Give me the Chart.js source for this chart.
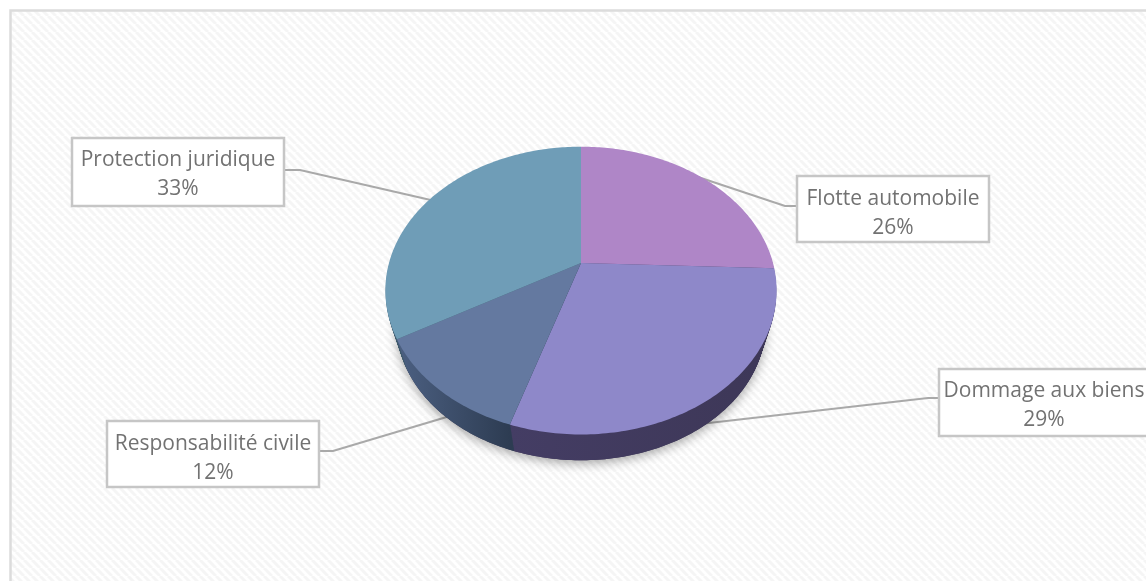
<!DOCTYPE html>
<html lang="fr">
<head>
<meta charset="utf-8">
<title>Répartition</title>
<script src="https://cdn.jsdelivr.net/npm/chart.js@4"></script>
<style>
  html, body { margin: 0; padding: 0; background: #fff; overflow: hidden; }
  #wrap { width: 1146px; height: 581px; position: relative; }
</style>
</head>
<body>
<div id="wrap"><canvas id="pie"></canvas></div>
<script>
// Donnees (etiquettes arrondies a l'entier)
const categories = ['Flotte automobile', 'Dommage aux biens', 'Responsabilité civile', 'Protection juridique'];
const values = [25.6, 29.3, 11.8, 33.3];

// Couleurs
const topColors = ['#af86c7', '#8e88c9', '#6479a0', '#6f9db7'];
const wallColors = [['#5d4570', '#4d3a60'], ['#443d64', '#3d3757'], ['#4c6082', '#2d3c52'], ['#3f5a6c', '#3f5a6c']];

// Etiquettes : cadre [x, y, largeur, hauteur], lignes de texte, trait de rappel
const callouts = [
  { box: [797, 176, 192, 66], textY: [199, 228], leader: [[797, 206], [785, 206], [695, 176]] },
  { box: [939, 369, 210, 67], textY: [391, 420], leader: [[939, 398], [928, 398], [700, 424]] },
  { box: [107, 421, 212, 66], textY: [444, 473], leader: [[319, 451], [333, 451], [450, 416]] },
  { box: [72, 138, 212, 68], textY: [160, 189], leader: [[284, 170], [300, 170], [435, 201]] }
];

// Perspective du disque (cercle -> ellipse, sommet hors du centre)
const tilt = 0.722;
const persp = 0.1916;
const depth = 34;
const depthScale = 0.943;
const ellipseShift = 27.5;

function project(arc, a, t) {
  const u = Math.cos(a), v = Math.sin(a);
  const w = 1 - persp * v;
  const r = arc.outerRadius;
  const cy = arc.y + ellipseShift;
  const s = 1 - (1 - depthScale) * t;
  const x = arc.x + r * u / w;
  const y = arc.y + r * tilt * v / w;
  return [arc.x + (x - arc.x) * s, cy + (y - cy) * s + depth * t];
}

function wedge(ctx, arc, t) {
  ctx.beginPath();
  const apex = project({ x: arc.x, y: arc.y, outerRadius: 0 }, 0, t);
  ctx.moveTo(apex[0], apex[1]);
  const n = Math.ceil((arc.endAngle - arc.startAngle) * 60);
  for (let i = 0; i <= n; i++) {
    const p = project(arc, arc.startAngle + (arc.endAngle - arc.startAngle) * i / n, t);
    ctx.lineTo(p[0], p[1]);
  }
  ctx.closePath();
}

function hatch() {
  const c = document.createElement('canvas');
  c.width = 8; c.height = 8;
  const g = c.getContext('2d');
  g.fillStyle = '#ffffff';
  g.fillRect(0, 0, 8, 8);
  g.strokeStyle = '#f5f5f5';
  g.lineWidth = 3;
  [-8, 0, 8].forEach(o => {
    g.beginPath();
    g.moveTo(o, 0);
    g.lineTo(o + 8, 8);
    g.stroke();
  });
  return c;
}

const backdrop = {
  id: 'backdrop',
  beforeDraw(chart) {
    const ctx = chart.ctx;
    ctx.save();
    ctx.fillStyle = ctx.createPattern(hatch(), 'repeat');
    ctx.fillRect(10, 10, 1136, 571);
    ctx.strokeStyle = '#dcdcdc';
    ctx.lineWidth = 2.5;
    ctx.beginPath();
    ctx.moveTo(10.5, 581);
    ctx.lineTo(10.5, 10.5);
    ctx.lineTo(1146, 10.5);
    ctx.stroke();
    // traits de rappel, sous le disque
    ctx.strokeStyle = '#a9a9a9';
    ctx.lineWidth = 2.2;
    callouts.forEach(c => {
      ctx.beginPath();
      c.leader.forEach((p, i) => i ? ctx.lineTo(p[0], p[1]) : ctx.moveTo(p[0], p[1]));
      ctx.stroke();
    });
    ctx.restore();
  }
};

const disc3d = {
  id: 'disc3d',
  beforeDatasetDraw(chart) {
    const ctx = chart.ctx;
    const arcs = chart.getDatasetMeta(0).data;
    ctx.save();
    // ombre portee
    ctx.save();
    ctx.shadowColor = 'rgba(0,0,0,0.35)';
    ctx.shadowBlur = 11;
    ctx.shadowOffsetY = 3;
    ctx.fillStyle = '#3d3757';
    arcs.forEach(arc => { wedge(ctx, arc, 1); ctx.fill(); });
    ctx.restore();
    // flanc
    for (let k = depth; k > 0; k--) {
      arcs.forEach((arc, i) => {
        const first = project(arc, arc.endAngle, 0)[0];
        const last = project(arc, arc.startAngle, 0)[0];
        const grad = ctx.createLinearGradient(Math.min(first, last), 0, Math.max(first, last), 0);
        grad.addColorStop(0, wallColors[i][0]);
        grad.addColorStop(1, wallColors[i][1]);
        ctx.fillStyle = grad;
        wedge(ctx, arc, k / depth);
        ctx.fill();
      });
    }
    // dessus
    arcs.forEach((arc, i) => {
      ctx.fillStyle = topColors[i];
      wedge(ctx, arc, 0);
      ctx.fill();
    });
    ctx.restore();
    return false;
  },
  afterDraw(chart) {
    const ctx = chart.ctx;
    ctx.save();
    callouts.forEach((c, i) => {
      const [x, y, w, h] = c.box;
      ctx.fillStyle = '#ffffff';
      ctx.strokeStyle = '#c6c6c6';
      ctx.lineWidth = 2.5;
      ctx.fillRect(x, y, w, h);
      ctx.strokeRect(x, y, w, h);
      ctx.fillStyle = '#727272';
      ctx.font = '21px "Open Sans"';
      ctx.textAlign = 'center';
      ctx.textBaseline = 'middle';
      ctx.fillText(categories[i], x + w / 2, c.textY[0]);
      ctx.fillText(Math.round(values[i]) + '%', x + w / 2, c.textY[1]);
    });
    ctx.restore();
  }
};

const ctx = document.getElementById('pie').getContext('2d');
new Chart(ctx, {
  type: 'pie',
  data: {
    labels: categories,
    datasets: [{ data: values, backgroundColor: topColors, borderWidth: 0 }]
  },
  options: {
    responsive: true,
    maintainAspectRatio: false,
    animation: false,
    events: [],
    layout: { padding: { left: 389, right: 373, top: 71, bottom: 126 } },
    plugins: { legend: { display: false }, tooltip: { enabled: false } }
  },
  plugins: [backdrop, disc3d]
});
</script>
</body>
</html>
